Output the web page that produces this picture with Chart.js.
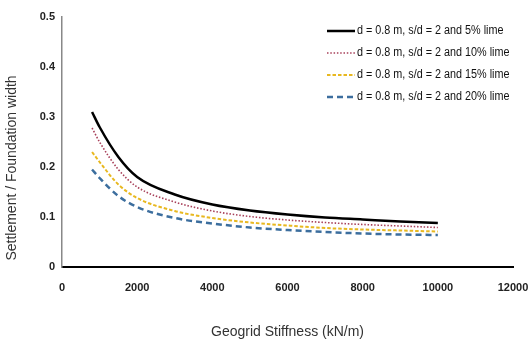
<!DOCTYPE html>
<html>
<head>
<meta charset="utf-8">
<script src="https://cdn.jsdelivr.net/npm/chart.js@4/dist/chart.umd.min.js"></script>
<style>
  html, body { margin: 0; padding: 0; background: #fff; }
  #wrap { width: 528px; height: 345px; position: relative; }
</style>
</head>
<body>
<div id="wrap"><canvas id="myChart"></canvas></div>
<script>
// geogrid stiffness (kN/m)
var stiffness = [800, 1000, 1500, 2000, 3000, 4000, 5000, 6000, 7000, 8000, 9000, 10000];
// settlement / foundation width
var lime5  = [0.310, 0.280, 0.220, 0.180, 0.145, 0.125, 0.113, 0.105, 0.099, 0.095, 0.091, 0.088];
var lime10 = [0.278, 0.250, 0.195, 0.160, 0.130, 0.112, 0.101, 0.094, 0.089, 0.085, 0.082, 0.079];
var lime15 = [0.230, 0.210, 0.165, 0.138, 0.112, 0.098, 0.089, 0.083, 0.078, 0.075, 0.073, 0.071];
var lime20 = [0.195, 0.178, 0.142, 0.120, 0.098, 0.087, 0.079, 0.074, 0.070, 0.067, 0.065, 0.064];
var seriesNames = [
  'd = 0.8 m, s/d = 2 and 5% lime',
  'd = 0.8 m, s/d = 2 and 10% lime',
  'd = 0.8 m, s/d = 2 and 15% lime',
  'd = 0.8 m, s/d = 2 and 20% lime'
];
var xTicks = [0, 2000, 4000, 6000, 8000, 10000, 12000];
var yTicks = [0, 0.1, 0.2, 0.3, 0.4, 0.5];

var fontFam = "'Liberation Sans', Arial, sans-serif";

function pts(vals) {
  var out = [];
  for (var i in vals) {
    out.push({x: stiffness[i], y: vals[i]});
  }
  return out;
}

// squeeze text a bit so it looks like the narrow font of the original
function narrowText(ctx, txt, x, y, sx) {
  ctx.save();
  ctx.translate(x, y);
  ctx.scale(sx, 1);
  ctx.fillText(txt, 0, 0);
  ctx.restore();
}

// legend drawn inside the plot, top right
var boxLegend = {
  id: 'boxLegend',
  afterDraw: function(chart) {
    var ctx = chart.ctx;
    var x0 = 327, y0 = 31;
    ctx.save();
    chart.data.datasets.forEach(function(ds, i) {
      var y = y0 + i * 22;
      ctx.beginPath();
      ctx.strokeStyle = ds.borderColor;
      ctx.lineWidth = ds.borderWidth;
      ctx.setLineDash(ds.borderDash || []);
      ctx.moveTo(x0, y);
      ctx.lineTo(x0 + 28, y);
      ctx.stroke();
      ctx.setLineDash([]);
      ctx.fillStyle = '#111';
      ctx.font = '12px ' + fontFam;
      ctx.textAlign = 'left';
      ctx.textBaseline = 'middle';
      narrowText(ctx, ds.label, x0 + 30, y, 0.9);
    });
    // y axis title
    ctx.translate(12, 168);
    ctx.rotate(-Math.PI / 2);
    ctx.textAlign = 'center';
    ctx.textBaseline = 'middle';
    ctx.fillStyle = '#333';
    ctx.font = '14px ' + fontFam;
    ctx.fillText('Settlement / Foundation width', 0, 0);
    ctx.restore();
  }
};

var styles = [
  {color: '#000000', width: 2.5, dash: []},
  {color: '#a8405a', width: 1.6, dash: [1.5, 1.8]},
  {color: '#e8b820', width: 2, dash: [3.5, 2]},
  {color: '#3c6e9e', width: 2.5, dash: [6, 4]}
];
var allSeries = [lime5, lime10, lime15, lime20];

var datasets = [];
for (var k = 0; k < allSeries.length; k++) {
  datasets.push({
    label: seriesNames[k],
    data: pts(allSeries[k]),
    borderColor: styles[k].color,
    borderWidth: styles[k].width,
    borderDash: styles[k].dash,
    pointRadius: 0,
    fill: false,
    cubicInterpolationMode: 'monotone'
  });
}

var ctx = document.getElementById('myChart');
var lineGraph = new Chart(ctx, {
  type: 'line',
  data: {datasets: datasets},
  plugins: [boxLegend],
  options: {
    responsive: true,
    maintainAspectRatio: false,
    animation: false,
    layout: {padding: {top: 17, right: 0, left: 0, bottom: 0}},
    plugins: {legend: {display: false}, tooltip: {enabled: false}},
    scales: {
      x: {
        type: 'linear',
        min: xTicks[0],
        max: xTicks[xTicks.length - 1],
        afterBuildTicks: function(s) { s.ticks = xTicks.map(function(v) { return {value: v}; }); },
        afterFit: function(s) { s.height = 78; s.paddingRight = 15; s.paddingLeft = 0; },
        grid: {display: false, drawTicks: false},
        border: {display: true, color: '#000', width: 2},
        ticks: {
          padding: 14,
          color: '#222',
          font: {family: fontFam, size: 11, weight: 'bold'},
          callback: function(v) { return String(v); },
          maxRotation: 0
        },
        title: {
          display: true,
          text: 'Geogrid Stiffness (kN/m)',
          color: '#333',
          font: {family: fontFam, size: 14},
          padding: {top: 20}
        }
      },
      y: {
        min: yTicks[0],
        max: yTicks[yTicks.length - 1],
        afterBuildTicks: function(s) { s.ticks = yTicks.map(function(v) { return {value: v}; }); },
        afterFit: function(s) { s.width = 62; },
        grid: {display: false, drawTicks: false},
        border: {display: true, color: '#888', width: 1.5},
        ticks: {
          padding: 7,
          color: '#222',
          font: {family: fontFam, size: 11, weight: 'bold'},
          callback: function(v) { return String(v); }
        }
      }
    }
  }
});
</script>
</body>
</html>
